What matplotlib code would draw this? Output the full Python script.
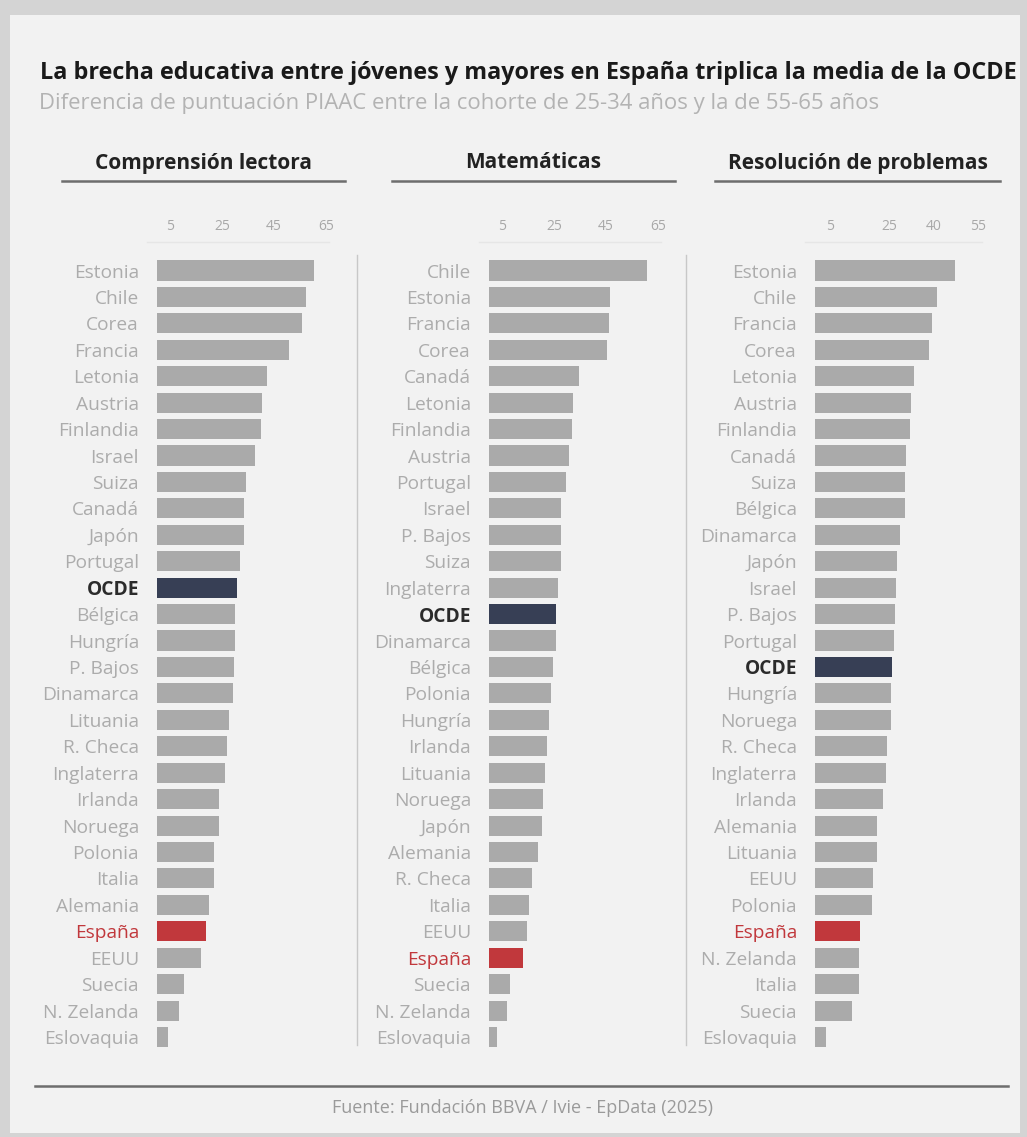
import matplotlib.pyplot as plt
from matplotlib.patches import Rectangle

plt.rcParams['font.family'] = ['Open Sans', 'DejaVu Sans']

# Comprensión lectora
lect_paises = ["Estonia", "Chile", "Corea", "Francia", "Letonia", "Austria", "Finlandia",
               "Israel", "Suiza", "Canadá", "Japón", "Portugal", "OCDE", "Bélgica", "Hungría",
               "P. Bajos", "Dinamarca", "Lituania", "R. Checa", "Inglaterra", "Irlanda",
               "Noruega", "Polonia", "Italia", "Alemania", "España", "EEUU", "Suecia",
               "N. Zelanda", "Eslovaquia"]
lect_valores = [60.4, 57.2, 55.7, 50.9, 42.2, 40.3, 40.1, 37.7, 34.2, 33.5, 33.4, 31.9, 30.7,
                30.0, 29.9, 29.6, 29.3, 27.8, 27.0, 26.2, 23.9, 23.8, 22.0, 21.9, 20.0, 18.7,
                16.9, 10.5, 8.6, 4.3]

# Matemáticas
mat_paises = ["Chile", "Estonia", "Francia", "Corea", "Canadá", "Letonia", "Finlandia",
              "Austria", "Portugal", "Israel", "P. Bajos", "Suiza", "Inglaterra", "OCDE",
              "Dinamarca", "Bélgica", "Polonia", "Hungría", "Irlanda", "Lituania", "Noruega",
              "Japón", "Alemania", "R. Checa", "Italia", "EEUU", "España", "Suecia",
              "N. Zelanda", "Eslovaquia"]
mat_valores = [60.9, 46.5, 46.3, 45.5, 34.7, 32.4, 31.8, 30.9, 29.6, 27.7, 27.6, 27.5, 26.4,
               25.8, 25.7, 24.7, 23.8, 23.1, 22.2, 21.5, 20.6, 20.5, 19.0, 16.4, 15.4, 14.7,
               13.2, 8.1, 7.0, 3.0]

# Resolución de problemas
res_paises = ["Estonia", "Chile", "Francia", "Corea", "Letonia", "Austria", "Finlandia",
              "Canadá", "Suiza", "Bélgica", "Dinamarca", "Japón", "Israel", "P. Bajos",
              "Portugal", "OCDE", "Hungría", "Noruega", "R. Checa", "Inglaterra", "Irlanda",
              "Alemania", "Lituania", "EEUU", "Polonia", "España", "N. Zelanda", "Italia",
              "Suecia", "Eslovaquia"]
res_valores = [47.3, 41.3, 39.6, 38.5, 33.4, 32.4, 32.1, 30.6, 30.5, 30.4, 28.7, 27.8, 27.4,
               27.1, 26.8, 26.1, 25.7, 25.6, 24.2, 24.0, 23.1, 21.0, 20.8, 19.7, 19.4, 15.2,
               15.0, 14.9, 12.4, 3.6]

titulos = ["Comprensión lectora", "Matemáticas", "Resolución de problemas"]
ticks = [[5, 25, 45, 65], [5, 25, 45, 65], [5, 25, 40, 55]]

W, H = 1027, 1137
BG = "#f2f2f2"
GRIS = "#aaaaaa"
OCDE_C = "#373f55"
ESP_C = "#c1383c"

fig = plt.figure(figsize=(W / 100, H / 100), dpi=100, facecolor="#d4d4d4")
fig.patches.append(Rectangle((10 / W, 4 / H), 1010 / W, 1118 / H, transform=fig.transFigure,
                             facecolor=BG, edgecolor="none", zorder=-10))

def fx(px):
    return px / W

def fy(py):
    return 1 - py / H

fig.text(fx(40), fy(73), "La brecha educativa entre jóvenes y mayores en España triplica la media de la OCDE",
         fontsize=16.8, fontweight="bold", color="#1a1a1a", va="center", ha="left")
fig.text(fx(39), fy(104), "Diferencia de puntuación PIAAC entre la cohorte de 25-34 años y la de 55-65 años",
         fontsize=15.9, color="#b3b3b3", va="center", ha="left")

# x of zero and px per unit for each panel, header line extents
ceros = [157, 489, 815]
escalas = [2.6, 2.6, 2.96]
xmax = [68, 68, 58]
lineas = [(62, 345), (392, 675), (715, 1000)]

top_px, bot_px = 257.3, 1050.2
datos = [(lect_paises, lect_valores), (mat_paises, mat_valores), (res_paises, res_valores)]

for i, (paises, valores) in enumerate(datos):
    left = ceros[i]
    width = xmax[i] * escalas[i]
    ax = fig.add_axes([fx(left), fy(bot_px), width / W, (bot_px - top_px) / H])
    ax.set_facecolor("none")
    colores = []
    for p in paises:
        if p == "OCDE":
            colores.append(OCDE_C)
        elif p == "España":
            colores.append(ESP_C)
        else:
            colores.append(GRIS)
    y = list(range(len(paises)))
    ax.barh(y, valores, height=0.76, color=colores)
    ax.set_ylim(len(paises) - 0.5, -0.5)
    ax.set_xlim(0, xmax[i])
    ax.set_yticks(y)
    ax.set_yticklabels(paises)
    for lbl, p in zip(ax.get_yticklabels(), paises):
        if p == "OCDE":
            lbl.set_color("#2b2b2b")
            lbl.set_fontweight("bold")
        elif p == "España":
            lbl.set_color(ESP_C)
        else:
            lbl.set_color("#acacac")
    ax.tick_params(axis="y", length=0, pad=13, labelsize=13.8)
    ax.xaxis.tick_top()
    ax.set_xticks(ticks[i])
    ax.tick_params(axis="x", length=0, pad=17, labelsize=10, labelcolor="#a8a8a8")
    for s in ax.spines.values():
        s.set_visible(False)

    cx = (lineas[i][0] + lineas[i][1]) / 2
    fig.text(fx(cx), fy(163), titulos[i], fontsize=15, fontweight="bold",
             color="#222222", ha="center", va="center")
    fig.add_artist(plt.Line2D([fx(lineas[i][0]), fx(lineas[i][1])], [fy(181), fy(181)],
                              color="#6e6e6e", lw=1.8))
    fig.add_artist(plt.Line2D([fx(left - 10), fx(left + width - 5)], [fy(242), fy(242)],
                              color="#e6e6e6", lw=1))

for xs in [357, 686]:
    fig.add_artist(plt.Line2D([fx(xs), fx(xs)], [fy(255), fy(1045)], color="#c8c8c8", lw=1))

fig.add_artist(plt.Line2D([fx(35), fx(1008)], [fy(1086), fy(1086)], color="#6e6e6e", lw=1.8))
fig.text(fx(522), fy(1108), "Fuente: Fundación BBVA / Ivie - EpData (2025)", fontsize=13,
         color="#9a9a9a", ha="center", va="center")

fig.savefig("out.png", dpi=100, facecolor=fig.get_facecolor())
